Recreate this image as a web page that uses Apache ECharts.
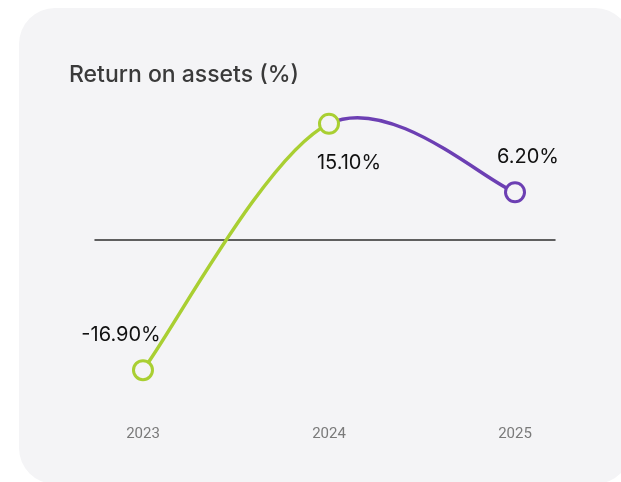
<!DOCTYPE html>
<html><head><meta charset="utf-8">
<script src="https://cdn.jsdelivr.net/npm/echarts@6/dist/echarts.min.js"></script>
<style>
html,body{margin:0;padding:0;background:#fff;width:621px;height:482px;overflow:hidden;}
#card{position:absolute;left:19px;top:8px;width:612px;height:476px;background:#f4f4f6;border-radius:36px;}
#chart{position:absolute;left:0;top:0;width:621px;height:482px;}
</style></head>
<body><div id="card"></div><div id="chart"></div>
<script>
const years = ['2023', '2024', '2025'];
const roaValues = [-16.9, 15.1, 6.2];
const valueLabels = ['-16.90%', '15.10%', '6.20%'];

const GREEN = '#a9cf32', PURPLE = '#6c3fb3';
const markerColor = i => (i < 2 ? GREEN : PURPLE);
const segmentColor = i => (i < 1 ? GREEN : PURPLE);

const chart = echarts.init(document.getElementById('chart'), null, {renderer:'canvas'});
const labelStyle = [
  {position:'top', offset:[-22, 0]},
  {position:'bottom', offset:[20, 4]},
  {position:'top', offset:[13, 0]}
];
const pts = roaValues.map((v,i)=>[i, v]);

// cardinal spline (tension 0) segments between consecutive points, drawn through the axes
function renderSegment(params, api){
  const i = params.dataIndex;
  const n = pts.length;
  if (i >= n - 1) return null;
  const c = k => api.coord(pts[Math.max(0, Math.min(n-1, k))]);
  const p0 = c(i-1), p1 = c(i), p2 = c(i+1), p3 = c(i+2);
  const k = 1/6;
  const cp1 = [p1[0] + k*(p2[0]-p0[0]), p1[1] + k*(p2[1]-p0[1])];
  const cp2 = [p2[0] - k*(p3[0]-p1[0]), p2[1] - k*(p3[1]-p1[1])];
  return {
    type:'bezierCurve',
    shape:{x1:p1[0], y1:p1[1], cpx1:cp1[0], cpy1:cp1[1], cpx2:cp2[0], cpy2:cp2[1], x2:p2[0], y2:p2[1]},
    style:{stroke:segmentColor(i), lineWidth:3.5, fill:null, lineCap:'round'}
  };
}

chart.setOption({
  animation:false,
  title:{text:'Return on assets (%)', left:64, top:59,
    textStyle:{fontFamily:'Inter', fontSize:23, fontWeight:500, color:'#3a3a3a'}},
  grid:{left:95, right:66, top:86, height:308},
  xAxis:{type:'value', min:-0.258, max:2.215,
    axisLine:{onZero:true, lineStyle:{color:'#2e2e2e', width:1.5}},
    axisTick:{show:false}, splitLine:{show:false},
    axisLabel:{customValues:[0,1,2], formatter:v=>years[Math.round(v)], color:'#7a7a7a',
      fontFamily:'Roboto', fontSize:15, margin:33}
  },
  yAxis:{type:'value', min:-20, max:20, show:false},
  series:[{
    type:'custom', renderItem:renderSegment, data:pts, z:2, silent:true
  },{
    type:'scatter', z:3,
    data:pts.map((p,i)=>({
      value:p,
      itemStyle:{borderColor:markerColor(i)},
      label:{show:true, formatter:valueLabels[i], position:labelStyle[i].position, offset:labelStyle[i].offset, distance:14}
    })),
    symbol:'circle', symbolSize:19,
    itemStyle:{borderWidth:3, color:'#f4f4f6', opacity:1},
    label:{color:'#111', fontFamily:'Inter', fontSize:20}
  }]
});
</script></body></html>
